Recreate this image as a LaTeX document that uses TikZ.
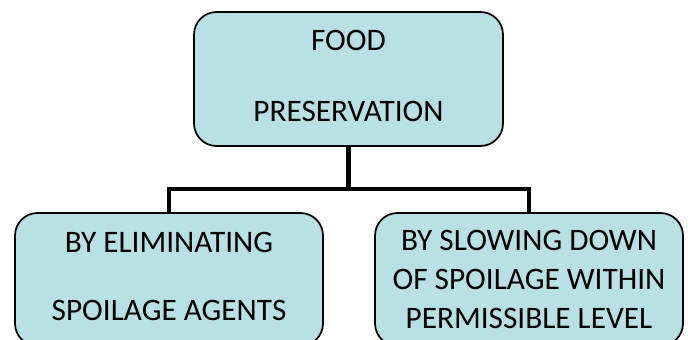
\documentclass[tikz,border=0pt]{standalone}
\usepackage{fontspec}
\setmainfont{Carlito}
\definecolor{boxblue}{HTML}{B9E0E2}
\tikzset{
    box_node/.style = {draw=black, fill=boxblue, rounded corners=0.45cm, line width=1pt, align=center, inner sep=0pt, font=\fontsize{17.8}{21.7}\selectfont},
    top_node/.style = {box_node, minimum width=6.18cm, minimum height=2.68cm},
    low_node/.style = {box_node, minimum width=6.16cm, minimum height=2.66cm},
    link/.style = {line width=2.8pt, line join=miter}
}
\begin{document}
\begin{tikzpicture}[x=0.02cm, y=-0.02cm]
    \useasboundingbox (0,0) rectangle (688,340);
    \node [top_node] (food) at (348.5,79) {FOOD\\[19pt]PRESERVATION\rule[-3.4pt]{0pt}{0pt}};
    \node [low_node] (elim) at (169,279.5) {BY ELIMINATING\\[17pt]SPOILAGE AGENTS\rule[-3.4pt]{0pt}{0pt}};
    \node [low_node] (slow) at (529,279.5) {BY SLOWING DOWN\\[0.3pt]OF SPOILAGE WITHIN\\[0.3pt]PERMISSIBLE LEVEL};
    \coordinate (split) at (348.5,189);
    \draw [link] (food.south) -- (split);
    \draw [link] (split) -| (elim.north);
    \draw [link] (split) -| (slow.north);
\end{tikzpicture}
\end{document}
